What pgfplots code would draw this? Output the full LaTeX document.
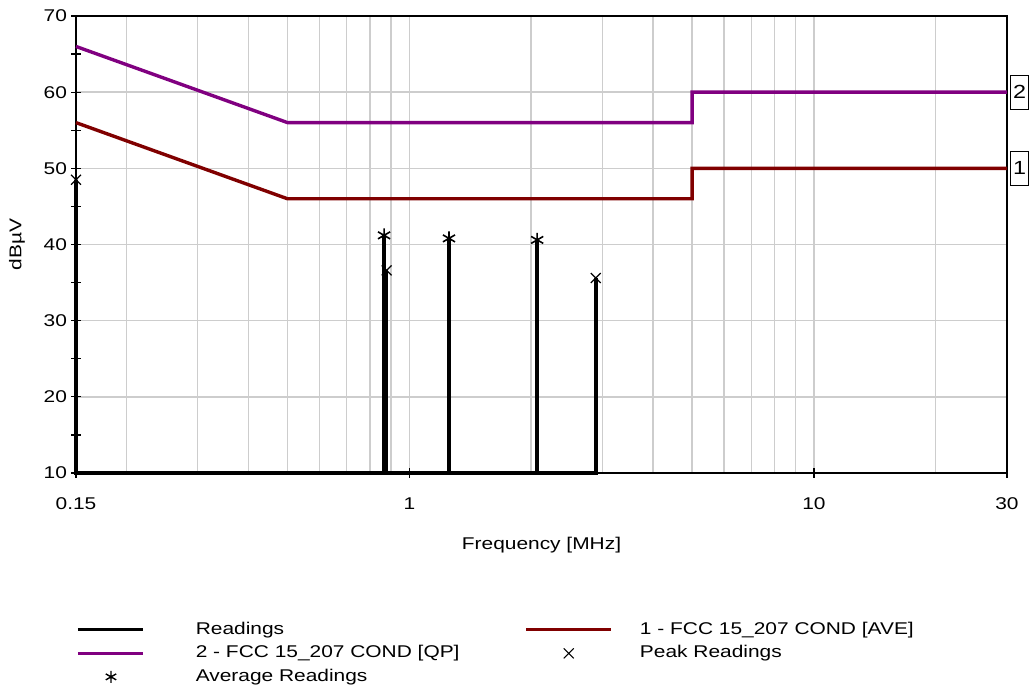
\documentclass[border=0pt]{standalone}
\usepackage{fontspec}
\setmainfont{Liberation Sans}[FakeStretch=1.23]
\usepackage{pgfplots}
\pgfplotsset{compat=1.18}
\definecolor{qp}{RGB}{128,0,128}
\definecolor{ave}{RGB}{128,0,0}
\definecolor{gridc}{RGB}{205,205,205}
\begin{document}
\fontsize{8.5}{10}\selectfont
\begin{tikzpicture}[font=\fontsize{8.5}{10}\selectfont]
\begin{axis}[
  name=ax,
  scale only axis, width=465.5pt, height=228.5pt,
  xmode=log, xmin=0.15, xmax=30, ymin=10, ymax=70,
  clip=false,
  xtick={0.15,1,10,30}, xticklabels={0.15,1,10,30},
  minor xtick={0.2,0.3,0.4,0.5,0.6,0.7,0.8,0.9,2,3,4,5,6,7,8,9,20},
  ytick={10,20,30,40,50,60,70},
  extra y ticks={15,25,35,45,55,65}, extra y tick labels={},
  extra y tick style={grid=none},
  xmajorgrids, xminorgrids, ymajorgrids,
  grid style={gridc, line width=0.7pt},
  minor grid style={gridc, line width=0.7pt},
  major tick length=5pt, minor tick length=0pt,
  tick align=center, tick style={black, line width=0.6pt},
  xtick pos=bottom, ytick pos=left,
  axis line style={black, line width=0.75pt},
  /pgf/number format/assume math mode=true,
  yticklabel style={anchor=east, xshift=1pt},
  xticklabel style={anchor=center, yshift=-13pt},
  xlabel={Frequency [MHz]},
  xlabel style={at={(axis description cs:0.5,-0.1575)}, anchor=center},
  ylabel={dBµV},
  ylabel style={at={(axis description cs:-0.0634,0.5)}, anchor=center},
  legend columns=2,
  legend cell align=left,
  legend style={at={(rel axis cs:0,-0.3247)}, anchor=north west, draw=none, fill=none,
    inner sep=0pt, column sep=0pt, row sep=3.65pt,
    nodes={inner sep=0pt, text height=6.3pt, text depth=1.8pt}},
]
\addplot[black, line width=1.8pt,
  legend image code/.code={\draw[black,line width=1.6pt](0pt,0pt)--(32.5pt,0pt); \path (58pt,0pt);}]
  coordinates {(0.15,10)(0.15,48.5)(0.15,10)(0.866,10)(0.866,41.2)(0.866,10)
  (0.879,10)(0.879,36.6)(0.879,10)(1.253,10)(1.253,40.8)(1.253,10)
  (2.07,10)(2.07,40.6)(2.07,10)(2.89,10)(2.89,35.6)(2.89,10)};
\addlegendentry{Readings}
\addplot[ave, line width=1.7pt,
  legend image code/.code={\path (-32.5pt,0pt); \draw[ave,line width=1.6pt](0pt,0pt)--(42.5pt,0pt); \path (56pt,0pt);}]
  coordinates {(0.15,56)(0.5,46)(5,46)(5,50)(30,50)};
\addlegendentry{1 - FCC 15\_207 COND [AVE]}
\addplot[qp, line width=1.7pt,
  legend image code/.code={\draw[qp,line width=1.6pt](0pt,0pt)--(32.5pt,0pt); \path (58pt,0pt);}]
  coordinates {(0.15,66)(0.5,56)(5,56)(5,60)(30,60)};
\addlegendentry{2 - FCC 15\_207 COND [QP]}
\addplot[only marks, mark=x, mark size=3.5pt, black, line width=0.6pt,
  legend image code/.code={\path (-32.5pt,0pt); \draw[black,line width=0.5pt] plot[only marks, mark=x, mark size=3.5pt] coordinates {(21.25pt,0pt)}; \path (56pt,0pt);}]
  coordinates {(0.15,48.5)(0.879,36.6)(2.89,35.6)};
\addlegendentry{Peak Readings}
\addplot[only marks, mark=asterisk, mark size=3.5pt, black, line width=0.8pt,
  legend image code/.code={\draw[black,line width=0.7pt] plot[only marks, mark=asterisk, mark size=3pt] coordinates {(16.5pt,0pt)}; \path (58pt,0pt);}]
  coordinates {(0.866,41.2)(1.253,40.8)(2.07,40.6)};
\addlegendentry{Average Readings}
\node[draw, line width=0.6pt, anchor=west, xshift=1.5pt, minimum width=9pt, minimum height=17pt, inner sep=0pt, font=\fontsize{9.5}{10}\selectfont] at (axis cs:30,60) {2};
\node[draw, line width=0.6pt, anchor=west, xshift=1.5pt, minimum width=9pt, minimum height=17pt, inner sep=0pt, font=\fontsize{9.5}{10}\selectfont] at (axis cs:30,50) {1};
\end{axis}
\pgfresetboundingbox
\path ([shift={(-38pt,-112.5pt)}]ax.south west) rectangle ([shift={(12.5pt,8pt)}]ax.north east);
\end{tikzpicture}
\end{document}
